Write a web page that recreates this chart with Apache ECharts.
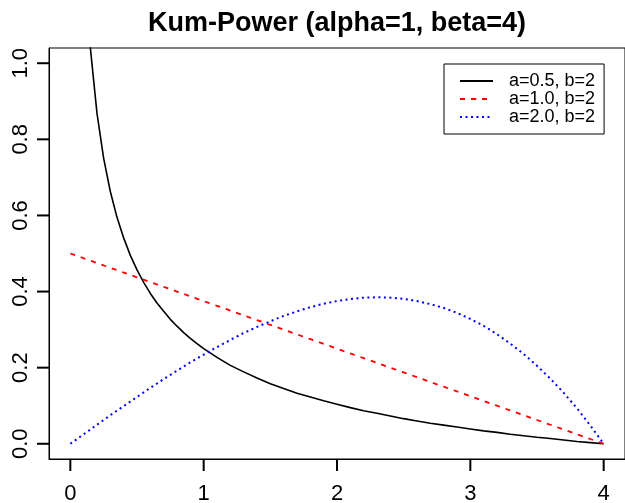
<!DOCTYPE html>
<html>
<head>
<meta charset="utf-8">
<script src="https://cdn.jsdelivr.net/npm/echarts@6/dist/echarts.min.js"></script>
<style>
  html, body { margin: 0; padding: 0; background: #fff; }
  #chart { width: 625px; height: 503px; }
</style>
</head>
<body>
<div id="chart"></div>
<script>
// values
const xs = [0, 0.1, 0.2, 0.3, 0.4, 0.5, 0.6, 0.7, 0.8, 0.9,
  1.0, 1.1, 1.2, 1.3, 1.4, 1.5, 1.6, 1.7, 1.8, 1.9,
  2.0, 2.1, 2.2, 2.3, 2.4, 2.5, 2.6, 2.7, 2.8, 2.9,
  3.0, 3.1, 3.2, 3.3, 3.4, 3.5, 3.6, 3.7, 3.8, 3.9, 4.0]

const blackX = [0.1, 0.15, 0.2, 0.25, 0.3, 0.35, 0.4, 0.45, 0.5, 0.55,
  0.6, 0.65, 0.7, 0.75, 0.8, 0.85, 0.9, 0.95,
  1.0, 1.1, 1.2, 1.3, 1.4, 1.5, 1.6, 1.7, 1.8, 1.9,
  2.0, 2.1, 2.2, 2.3, 2.4, 2.5, 2.6, 2.7, 2.8, 2.9,
  3.0, 3.1, 3.2, 3.3, 3.4, 3.5, 3.6, 3.7, 3.8, 3.9, 4.0]
const blackY = [1.331, 1.041, 0.868, 0.75, 0.663, 0.595, 0.541, 0.495, 0.457, 0.424,
  0.395, 0.370, 0.348, 0.327, 0.309, 0.292, 0.277, 0.263,
  0.25, 0.227, 0.206, 0.189, 0.173, 0.158, 0.145, 0.133, 0.123, 0.113,
  0.104, 0.095, 0.087, 0.080, 0.073, 0.066, 0.060, 0.054, 0.049, 0.044,
  0.039, 0.034, 0.030, 0.025, 0.021, 0.017, 0.014, 0.010, 0.006, 0.003, 0]

const redY = [0.5, 0.4875, 0.475, 0.4625, 0.45, 0.4375, 0.425, 0.4125, 0.4, 0.3875,
  0.375, 0.3625, 0.35, 0.3375, 0.325, 0.3125, 0.3, 0.2875, 0.275, 0.2625,
  0.25, 0.2375, 0.225, 0.2125, 0.2, 0.1875, 0.175, 0.1625, 0.15, 0.1375,
  0.125, 0.1125, 0.1, 0.0875, 0.075, 0.0625, 0.05, 0.0375, 0.025, 0.0125, 0]

const blueY = [0, 0.025, 0.050, 0.075, 0.099, 0.123, 0.147, 0.170, 0.192, 0.214,
  0.234, 0.254, 0.273, 0.291, 0.307, 0.322, 0.336, 0.348, 0.359, 0.368,
  0.375, 0.380, 0.384, 0.385, 0.384, 0.381, 0.375, 0.367, 0.357, 0.344,
  0.328, 0.310, 0.288, 0.263, 0.236, 0.205, 0.171, 0.134, 0.093, 0.048, 0]

const seriesNames = ['a=0.5, b=2', 'a=1.0, b=2', 'a=2.0, b=2']
const xTicks = [0, 1, 2, 3, 4]
const yTicks = [0, 0.2, 0.4, 0.6, 0.8, 1.0]

const xMin = -0.16
const xMax = 4.16
const yMin = -0.04
const yMax = 1.04
const tickLen = 12

const font = "'Liberation Sans', Arial, sans-serif"

const chart = echarts.init(document.getElementById('chart'))

// outward tick marks, placed with the axis scale
const renderXTick = (params, api) => {
  const p = api.coord([api.value(0), yMin])
  const bottom = params.coordSys.y + params.coordSys.height
  return {
    type: 'line',
    shape: { x1: p[0], y1: bottom, x2: p[0], y2: bottom + tickLen },
    style: { stroke: '#000', lineWidth: 2 },
  }
}

const renderYTick = (params, api) => {
  const p = api.coord([xMin, api.value(1)])
  const left = params.coordSys.x
  return {
    type: 'line',
    shape: { x1: left, y1: p[1], x2: left - tickLen, y2: p[1] },
    style: { stroke: '#000', lineWidth: 2 },
  }
}

const option = {
  animation: false,
  backgroundColor: '#fff',
  title: {
    text: 'Kum-Power (alpha=1, beta=4)',
    left: 337,
    top: 10,
    padding: 0,
    textAlign: 'center',
    textStyle: {
      fontFamily: font,
      fontSize: 27,
      fontWeight: 'bold',
      color: '#000',
    },
  },
  legend: {
    orient: 'vertical',
    left: 444,
    top: 64,
    padding: [8, 9, 8, 15],
    itemWidth: 33,
    // tiny icon height so the marker dot disappears under the line sample
    itemHeight: 1,
    itemGap: 0,
    borderColor: '#000',
    borderWidth: 1,
    borderRadius: 0,
    data: seriesNames,
    textStyle: {
      fontFamily: font,
      fontSize: 18,
      lineHeight: 18,
      color: '#000',
      padding: [0, 0, 0, 11],
    },
  },
  grid: {
    left: 49,
    right: 0,
    top: 48,
    bottom: 44,
    containLabel: false,
    outerBoundsMode: 'none',
    show: true,
    borderColor: '#000',
    borderWidth: 1,
  },
  xAxis: {
    type: 'value',
    min: xMin,
    max: xMax,
    axisLine: { show: true, onZero: false, lineStyle: { color: '#000', width: 1 } },
    splitLine: { show: false },
    axisTick: { show: false },
    axisLabel: {
      customValues: xTicks,
      margin: 24,
      fontFamily: font,
      fontSize: 22,
      color: '#000',
    },
  },
  yAxis: {
    type: 'value',
    min: yMin,
    max: yMax,
    axisLine: { show: true, onZero: false, lineStyle: { color: '#000', width: 1 } },
    splitLine: { show: false },
    axisTick: { show: false },
    axisLabel: {
      customValues: yTicks,
      rotate: 90,
      margin: 17,
      fontFamily: font,
      fontSize: 22,
      color: '#000',
      formatter: (v) => v.toFixed(1),
    },
  },
  series: [
    {
      name: seriesNames[0],
      type: 'line',
      symbol: 'none',
      clip: true,
      lineStyle: { color: '#000', width: 1.6, type: 'solid' },
      itemStyle: { color: '#000' },
      data: blackX.map((x, i) => [x, blackY[i]]),
    },
    {
      name: seriesNames[1],
      type: 'line',
      symbol: 'none',
      clip: true,
      lineStyle: { color: '#ff0000', width: 1.8, type: [5, 6] },
      itemStyle: { color: '#ff0000' },
      data: xs.map((x, i) => [x, redY[i]]),
    },
    {
      name: seriesNames[2],
      type: 'line',
      symbol: 'none',
      clip: true,
      lineStyle: { color: '#0000ff', width: 2, type: [2, 3.5] },
      itemStyle: { color: '#0000ff' },
      data: xs.map((x, i) => [x, blueY[i]]),
    },
    {
      name: 'xTicks',
      type: 'custom',
      silent: true,
      clip: false,
      renderItem: renderXTick,
      data: xTicks.map((v) => [v, yMin]),
    },
    {
      name: 'yTicks',
      type: 'custom',
      silent: true,
      clip: false,
      renderItem: renderYTick,
      data: yTicks.map((v) => [xMin, v]),
    },
  ],
}

chart.setOption(option)
</script>
</body>
</html>
